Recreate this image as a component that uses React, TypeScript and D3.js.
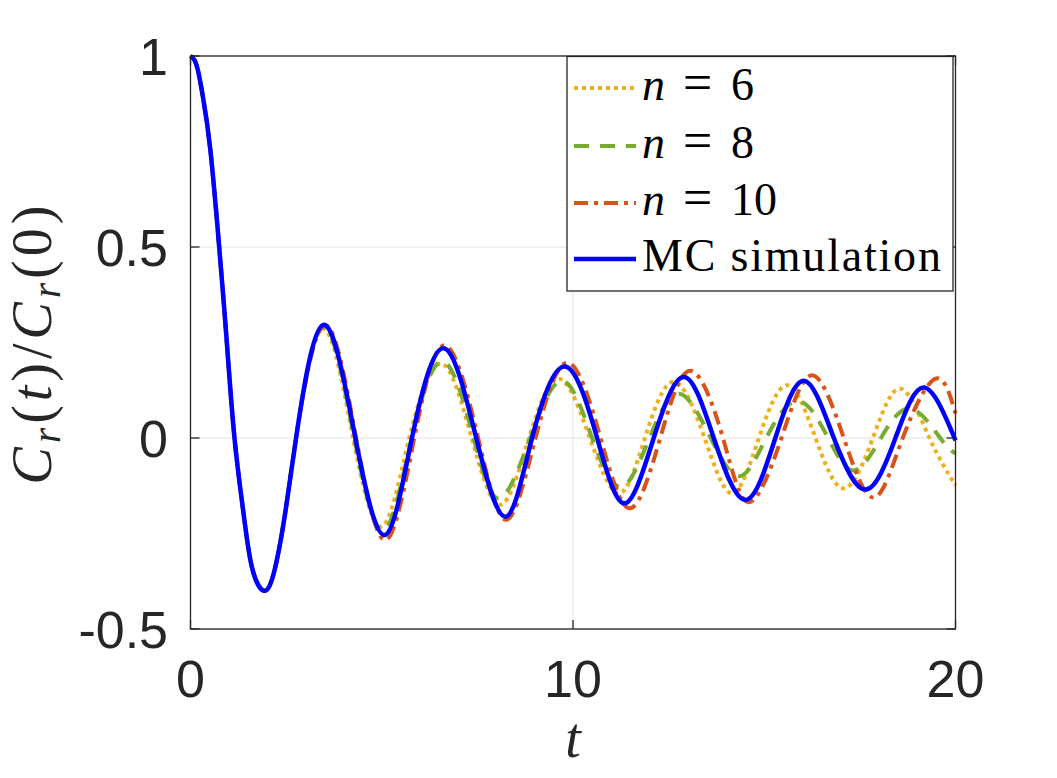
import * as d3 from "d3";

type Pt = [number, number];

// Shared initial decay, identical for every curve up to the first rise
const headSegment: Pt[] = [
  [0, 1], [0.1, 0.99], [0.2, 0.96], [0.33, 0.89], [0.52, 0.753],
  [0.75, 0.5], [0.95, 0.25], [1.15, 0], [1.39, -0.2], [1.61, -0.34],
  [1.92, -0.4], [2.2, -0.345], [2.47, -0.2], [2.76, 0],
];

const orderSix: Pt[] = [
  [3.45, 0.287], [4.25, 0], [5.0, -0.232], [5.72, 0], [6.55, 0.195],
  [7.35, 0], [8.1, -0.175], [8.85, 0], [9.63, 0.155], [10.44, 0],
  [11.2, -0.145], [11.88, 0], [12.63, 0.147], [13.44, 0], [14.16, -0.145],
  [14.86, 0], [15.6, 0.138], [16.34, 0], [17.08, -0.132], [17.84, 0],
  [18.56, 0.129], [19.32, 0], [20, -0.124],
];

const orderEight: Pt[] = [
  [3.47, 0.29], [4.28, 0], [5.05, -0.241], [5.78, 0], [6.6, 0.2],
  [7.4, 0], [8.07, -0.158], [8.88, 0], [9.72, 0.15], [10.5, 0],
  [11.25, -0.128], [12.0, 0], [12.77, 0.116], [13.6, 0], [14.35, -0.1],
  [15.05, 0], [15.88, 0.097], [16.67, 0], [17.34, -0.085], [18.05, 0],
  [18.82, 0.077], [19.6, 0], [20, -0.041],
];

const orderTen: Pt[] = [
  [3.5, 0.295], [4.33, 0], [5.1, -0.267], [5.85, 0], [6.65, 0.243],
  [7.52, 0], [8.26, -0.214], [9.02, 0], [9.86, 0.197], [10.72, 0],
  [11.49, -0.184], [12.28, 0], [13.07, 0.176], [13.92, 0], [14.6, -0.168],
  [15.45, 0], [16.25, 0.164], [17.08, 0], [17.86, -0.156], [18.62, 0],
  [19.47, 0.155], [20, 0.064],
];

const mcSimulation: Pt[] = [
  [3.47, 0.296], [4.31, 0], [5.08, -0.254], [5.79, 0], [6.62, 0.235],
  [7.47, 0], [8.24, -0.206], [8.93, 0], [9.79, 0.187], [10.63, 0],
  [11.35, -0.171], [12.11, 0], [12.9, 0.16], [13.68, 0], [14.51, -0.162],
  [15.29, 0], [16.04, 0.15], [16.82, 0], [17.65, -0.135], [18.43, 0],
  [19.17, 0.132], [20, -0.006],
];

const xTicks = [0, 10, 20];
const yTicks = [-0.5, 0, 0.5, 1];
const yTickLabels = ["-0.5", "0", "0.5", "1"];

const series = [
  { key: "6", data: orderSix, color: "#EDB120", dash: "4 4", width: 4 },
  { key: "8", data: orderEight, color: "#77AC30", dash: "15 11", width: 4 },
  { key: "10", data: orderTen, color: "#D95319", dash: "14 6 4 6", width: 4 },
  { key: "mc", data: mcSimulation, color: "#0000FF", dash: "none", width: 4.5 },
];

const W = 1057;
const H = 778;
const axisColor = "#262626";
const sans = "'Liberation Sans', Arial, Helvetica, sans-serif";
const serif = "'Liberation Serif', 'Times New Roman', serif";

export default function App() {
  const x = d3.scaleLinear().domain([0, 20]).range([190.5, 955.5]);
  const y = d3.scaleLinear().domain([-0.5, 1]).range([629, 56]);
  const [x0, x1] = x.range();
  const [y0, y1] = y.range();

  const line = d3
    .line<Pt>()
    .x((d) => x(d[0]))
    .y((d) => y(d[1]))
    .curve(d3.curveNatural);

  const tick = 9;
  const legend = { x: 567, y: 56.5, w: 386, h: 234.5 };
  const rowY = [88, 146, 203, 259];

  return (
    <svg
      width={W}
      height={H}
      style={{ position: "absolute", left: 0, top: 0, background: "#fff" }}
    >
      <rect width={W} height={H} fill="#fff" />

      {/* grid */}
      <g stroke="#e3e3e3" strokeWidth={1}>
        {xTicks.map((t) => (
          <line key={"gx" + t} x1={x(t)} x2={x(t)} y1={y0} y2={y1} />
        ))}
        {yTicks.map((t) => (
          <line key={"gy" + t} x1={x0} x2={x1} y1={y(t)} y2={y(t)} />
        ))}
      </g>

      {/* curves */}
      {series.map((s) => (
        <path
          key={s.key}
          d={line([...headSegment, ...s.data]) ?? ""}
          fill="none"
          stroke={s.color}
          strokeWidth={s.width}
          strokeDasharray={s.dash}
          strokeLinejoin="round"
        />
      ))}

      {/* box and ticks */}
      <rect
        x={x0}
        y={y1}
        width={x1 - x0}
        height={y0 - y1}
        fill="none"
        stroke={axisColor}
        strokeWidth={1.3}
      />
      <g stroke={axisColor} strokeWidth={1.3}>
        {xTicks.map((t) => (
          <g key={"tx" + t}>
            <line x1={x(t)} x2={x(t)} y1={y0} y2={y0 - tick} />
            <line x1={x(t)} x2={x(t)} y1={y1} y2={y1 + tick} />
          </g>
        ))}
        {yTicks.map((t) => (
          <g key={"ty" + t}>
            <line x1={x0} x2={x0 + tick} y1={y(t)} y2={y(t)} />
            <line x1={x1} x2={x1 - tick} y1={y(t)} y2={y(t)} />
          </g>
        ))}
      </g>

      {/* tick labels */}
      <g fill={axisColor} fontFamily={sans} fontSize={52}>
        {xTicks.map((t) => (
          <text key={"lx" + t} x={x(t)} y={697} textAnchor="middle">
            {t}
          </text>
        ))}
        {yTicks.map((t, i) => (
          <text key={"ly" + t} x={168} y={y(t) + 19} textAnchor="end">
            {yTickLabels[i]}
          </text>
        ))}
      </g>

      {/* axis titles */}
      <text
        x={x(10)}
        y={757}
        textAnchor="middle"
        fontFamily={serif}
        fontStyle="italic"
        fontSize={56}
        fill={axisColor}
      >
        t
      </text>
      <text
        transform="translate(51,343) rotate(-90)"
        textAnchor="middle"
        fontFamily={serif}
        fontSize={56}
        fill={axisColor}
        letterSpacing={4}
      >
        <tspan fontStyle="italic">C</tspan>
        <tspan fontStyle="italic" fontSize={39} dy={9}>r</tspan>
        <tspan dy={-9}>(</tspan>
        <tspan fontStyle="italic">t</tspan>
        <tspan>)/</tspan>
        <tspan fontStyle="italic">C</tspan>
        <tspan fontStyle="italic" fontSize={39} dy={9}>r</tspan>
        <tspan dy={-9}>(0)</tspan>
      </text>

      {/* legend */}
      <rect
        x={legend.x}
        y={legend.y}
        width={legend.w}
        height={legend.h}
        fill="#fff"
        stroke={axisColor}
        strokeWidth={1.3}
      />
      {series.map((s, i) => (
        <g key={"lg" + s.key}>
          <line
            x1={574}
            x2={636}
            y1={rowY[i]}
            y2={rowY[i]}
            stroke={s.color}
            strokeWidth={s.width}
            strokeDasharray={s.dash}
          />
          {s.key === "mc" ? (
            <text x={642} y={rowY[i] + 12} fontFamily={serif} fontSize={46} fill="#000" letterSpacing={1.8}>
              MC simulation
            </text>
          ) : (
            <text y={rowY[i] + 12} fontFamily={serif} fontSize={46} fill="#000">
              <tspan x={642} fontStyle="italic">n</tspan>
              <tspan x={683} fontSize={52}>=</tspan>
              <tspan x={731}>{s.key}</tspan>
            </text>
          )}
        </g>
      ))}
    </svg>
  );
}
